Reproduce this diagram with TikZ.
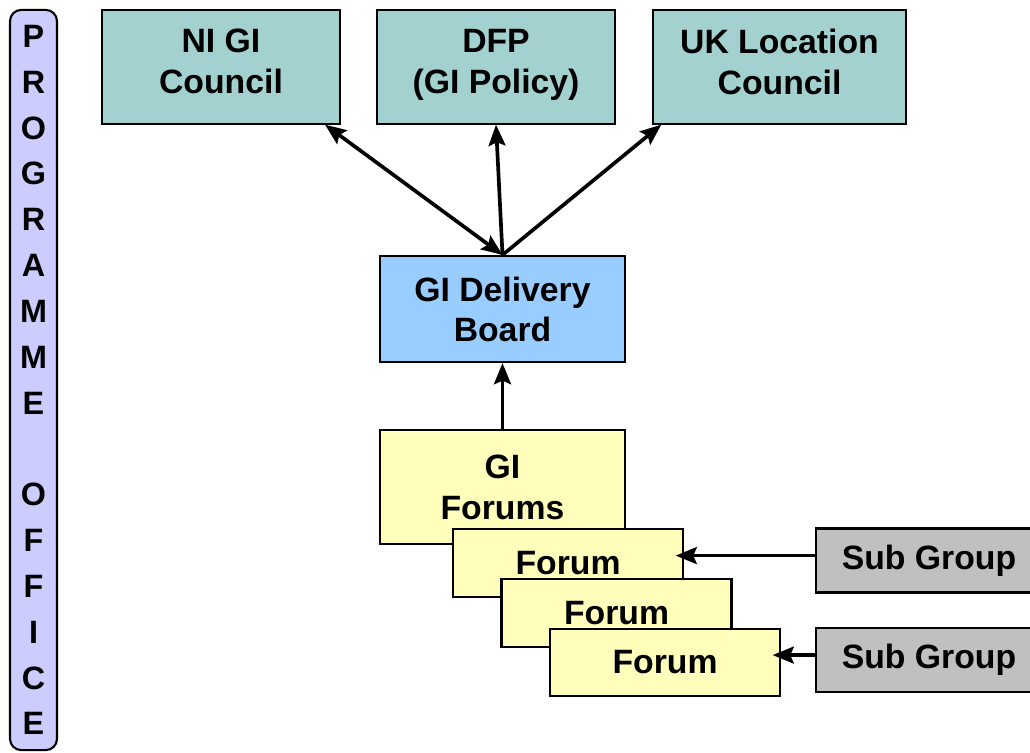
\documentclass[tikz,border=0pt]{standalone}
\usepackage{fontspec}
\setmainfont{Liberation Sans}
\usetikzlibrary{arrows.meta}
\definecolor{council}{HTML}{A2D1D0}
\definecolor{board}{HTML}{99CCFF}
\definecolor{forum}{HTML}{FFFFBB}
\definecolor{subgrp}{HTML}{C0C0C0}
\definecolor{office}{HTML}{CCCCFF}

\begin{document}
\begin{tikzpicture}[x=0.025cm,y=-0.025cm,>={Stealth[length=15pt,width=12pt,inset=2.5pt]},
	box/.style={draw,line width=1.5pt,inner sep=0pt,align=center,font=\fontsize{24}{29}\selectfont\bfseries},
	top/.style={box,fill=council,minimum width=#1,minimum height=2.83cm,
		execute at end node={\rule[-8pt]{0pt}{8pt}}},
	small/.style={box,fill=forum,minimum width=5.75cm,minimum height=1.68cm},
	sub/.style={box,fill=subgrp,minimum width=5.65cm,minimum height=1.6cm},
	link/.style={line width=2.6pt}]
		\useasboundingbox (0,0) rectangle (1030,752);
		\clip (0,0) rectangle (1030,752);
		% programme office bar
		\node[box,rounded corners=8pt,fill=office,minimum width=1.175cm,minimum height=18.5cm,
			font=\fontsize{23}{32.6}\selectfont\bfseries] (po) at (33.5,380)
			{P\\R\\O\\G\\R\\A\\M\\M\\E\\\mbox{}\\O\\F\\F\\I\\C\\E};
		\node[top=5.95cm] (nigi) at (221,67) {NI GI\\Council};
		\node[top=5.95cm] (dfp) at (496,67) {DFP\\(GI Policy)};
		\node[top=6.325cm] (ukl) at (779.5,67) {UK Location\\Council};
		\node[box,fill=board,minimum width=6.125cm,minimum height=2.65cm,
			font=\fontsize{24}{28.5}\selectfont\bfseries] (board) at (502.5,309) {GI Delivery\\Board};
		\node[box,fill=forum,minimum width=6.125cm,minimum height=2.85cm] (forums) at (502.5,487) {GI\\Forums};
		\node[small] (forum1) at (568,563) {Forum};
		\node[small] (forum2) at (616.5,613) {Forum};
		\node[small] (forum3) at (665,662.5) {Forum};
		\node[sub] (sub1) at (929,560.5) {Sub Group};
		\node[sub] (sub2) at (929,660) {Sub Group};
		\draw[link,<->] (board.north) -- (nigi.-29);
		\draw[link,->] (board.north) -- (dfp.south);
		\draw[link,->] (board.north) -- (ukl.206);
		\draw[link,->] (forums) -- (board);
		\draw[link,->,shorten >=-6pt] ([yshift=3.5pt]sub1.west) -- ([yshift=3.5pt]sub1.west -| forum1.east);
		\draw[link,->,shorten >=-6pt] ([yshift=3.5pt]sub2.west) -- ([yshift=3.5pt]sub2.west -| forum3.east);
\end{tikzpicture}
\end{document}
